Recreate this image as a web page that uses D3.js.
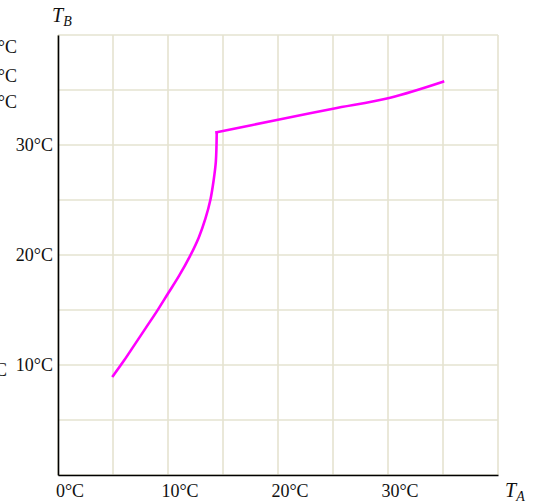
<!DOCTYPE html>
<html>
<head>
<meta charset="utf-8">
<script src="https://cdn.jsdelivr.net/npm/d3@7"></script>
<style>
  html, body { margin: 0; padding: 0; background: #fff; }
  svg { display: block; }
  text { font-family: "Liberation Serif", "DejaVu Serif", serif; fill: #111; }
</style>
</head>
<body>
<svg id="chart" width="535" height="504"></svg>
<script>
// Temperature path, T_B against T_A: rising branch, then the flatter branch
const riseTA = [5.0, 6.0, 7.0, 8.0, 9.0, 10.0, 11.0, 12.0, 12.8, 13.4, 13.85, 14.15, 14.35, 14.43];
const riseTB = [9.0, 10.4, 11.9, 13.4, 14.9, 16.5, 18.1, 19.9, 21.6, 23.3, 25.0, 26.8, 28.5, 31.15];
const flatTA = [14.43, 20.0, 25.0, 30.2, 35.0];
const flatTB = [31.15, 32.3, 33.3, 34.3, 35.75];

// Tick labels
const xTickValues = [0, 10, 20, 30];
const xTickLabels = ["0°C", "10°C", "20°C", "30°C"];
const yTickValues = [10, 20, 30];
const yTickLabels = ["10°C", "20°C", "30°C"];
// Side labels that run past the left edge
const sideValues = [38.9, 36.2, 33.9, 9.5];
const sideLabels = ["39°C", "36°C", "34°C", "10°C"];
const sideRight = [17, 17, 17, 7];

const gridStep = 5;
const domainMax = 40;

const svg = d3.select("#chart");
const plot = { left: 58, right: 498, top: 35, bottom: 475 };

const x = d3.scaleLinear().domain([0, domainMax]).range([plot.left, plot.right]);
const y = d3.scaleLinear().domain([0, domainMax]).range([plot.bottom, plot.top]);

const gridVals = d3.range(0, domainMax + 0.001, gridStep);

// Grid
const grid = svg.append("g").attr("stroke", "#e5e3d0").attr("stroke-width", 1.6);
grid.selectAll("line.v").data(gridVals).join("line").attr("class", "v")
  .attr("x1", d => x(d)).attr("x2", d => x(d))
  .attr("y1", y(0)).attr("y2", y(domainMax));
grid.selectAll("line.h").data(gridVals).join("line").attr("class", "h")
  .attr("x1", x(0)).attr("x2", x(domainMax))
  .attr("y1", d => y(d)).attr("y2", d => y(d));

// Axes lines
const xAxis = d3.axisBottom(x).tickValues([]).tickSize(0).tickSizeOuter(0);
const yAxis = d3.axisLeft(y).tickValues([]).tickSize(0).tickSizeOuter(0);
svg.append("g").attr("transform", `translate(0,${y(0)})`).call(xAxis)
  .call(g => g.select(".domain").attr("stroke", "#000").attr("stroke-width", 1.6));
svg.append("g").attr("transform", `translate(${x(0)},0)`).call(yAxis)
  .call(g => g.select(".domain").attr("stroke", "#000").attr("stroke-width", 1.6));

// Tick labels
const fs = 18;
svg.append("g").selectAll("text").data(xTickValues).join("text")
  .attr("x", d => x(d) + 12).attr("y", 497)
  .attr("text-anchor", "middle").attr("font-size", fs)
  .text((d, i) => xTickLabels[i]);
svg.append("g").selectAll("text").data(yTickValues).join("text")
  .attr("x", 53).attr("y", d => y(d) + 5.5)
  .attr("text-anchor", "end").attr("font-size", fs)
  .text((d, i) => yTickLabels[i]);
svg.append("g").selectAll("text").data(sideValues).join("text")
  .attr("x", (d, i) => sideRight[i]).attr("y", d => y(d) + 5.5)
  .attr("text-anchor", "end").attr("font-size", fs)
  .text((d, i) => sideLabels[i]);

// Axis titles
const tB = svg.append("text").attr("x", 52).attr("y", 22).attr("font-size", 20).attr("font-style", "italic");
tB.append("tspan").text("T");
tB.append("tspan").attr("font-size", 14).attr("dy", 4).text("B");
const tA = svg.append("text").attr("x", 505).attr("y", 497).attr("font-size", 20).attr("font-style", "italic");
tA.append("tspan").text("T");
tA.append("tspan").attr("font-size", 14).attr("dy", 4).text("A");

// Curve, drawn as two smooth branches meeting at a corner
const line = d3.line().x(d => x(d[0])).y(d => y(d[1])).curve(d3.curveCatmullRom.alpha(0.5));
const branches = [
  riseTA.map((t, i) => [t, riseTB[i]]),
  flatTA.map((t, i) => [t, flatTB[i]])
];
svg.append("g").selectAll("path").data(branches).join("path")
  .attr("d", line)
  .attr("fill", "none")
  .attr("stroke", "#ff00ff")
  .attr("stroke-width", 2.6)
  .attr("stroke-linecap", "square");
</script>
</body>
</html>
